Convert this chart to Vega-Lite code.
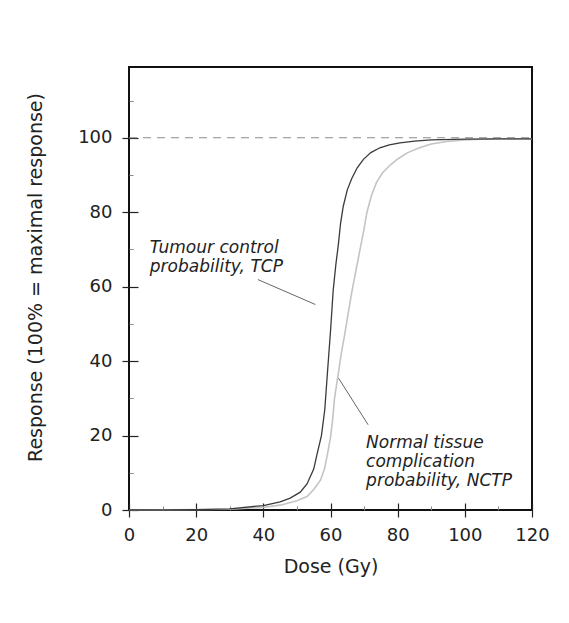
{
  "$schema": "https://vega.github.io/schema/vega-lite/v6.json",
  "width": 403,
  "height": 443,
  "autosize": "none",
  "padding": {"left": 129, "top": 67, "right": 37, "bottom": 113},
  "background": "white",
  "config": {
    "font": "DejaVu Sans",
    "view": {"stroke": "#111", "strokeWidth": 2}
  },
  "datasets": {
    "tcp": [
      {"dose": 0, "response": 0}, {"dose": 10, "response": 0.05}, {"dose": 20, "response": 0.1},
      {"dose": 30, "response": 0.3}, {"dose": 40, "response": 1.2}, {"dose": 45, "response": 2.2},
      {"dose": 48, "response": 3.2}, {"dose": 51, "response": 4.8}, {"dose": 53, "response": 7},
      {"dose": 55, "response": 11}, {"dose": 56, "response": 15}, {"dose": 57.3, "response": 20},
      {"dose": 58.3, "response": 27}, {"dose": 59.1, "response": 37}, {"dose": 60, "response": 48},
      {"dose": 60.8, "response": 59}, {"dose": 61.6, "response": 66}, {"dose": 62.3, "response": 71},
      {"dose": 63, "response": 77}, {"dose": 63.8, "response": 81.6}, {"dose": 65, "response": 86},
      {"dose": 66.3, "response": 89}, {"dose": 68, "response": 92}, {"dose": 69.8, "response": 94.2},
      {"dose": 72, "response": 96}, {"dose": 74.7, "response": 97.3}, {"dose": 77.5, "response": 98.1},
      {"dose": 80.7, "response": 98.6}, {"dose": 85, "response": 99.1}, {"dose": 90, "response": 99.4},
      {"dose": 100, "response": 99.6}, {"dose": 110, "response": 99.7}, {"dose": 120, "response": 99.7}
    ],
    "nctp": [
      {"dose": 0, "response": 0}, {"dose": 30, "response": 0.2}, {"dose": 40, "response": 0.7},
      {"dose": 45, "response": 1.3}, {"dose": 50, "response": 2.5}, {"dose": 53, "response": 3.6},
      {"dose": 55, "response": 5.5}, {"dose": 57, "response": 8}, {"dose": 58.2, "response": 11},
      {"dose": 59.1, "response": 15}, {"dose": 60, "response": 19.5}, {"dose": 60.6, "response": 24},
      {"dose": 61.2, "response": 30}, {"dose": 62.3, "response": 36.5}, {"dose": 63.2, "response": 42},
      {"dose": 64.2, "response": 47}, {"dose": 65.2, "response": 52.5}, {"dose": 66.3, "response": 58.3},
      {"dose": 67.5, "response": 64}, {"dose": 68.8, "response": 70}, {"dose": 70, "response": 75.5},
      {"dose": 70.8, "response": 79.8}, {"dose": 72.2, "response": 84.5}, {"dose": 73.7, "response": 88},
      {"dose": 75.5, "response": 90.6}, {"dose": 77.7, "response": 92.6}, {"dose": 80, "response": 94.3},
      {"dose": 83, "response": 96}, {"dose": 86.7, "response": 97.4}, {"dose": 90, "response": 98.3},
      {"dose": 94.6, "response": 99}, {"dose": 100, "response": 99.4}, {"dose": 105, "response": 99.6},
      {"dose": 110, "response": 99.7}, {"dose": 120, "response": 99.7}
    ],
    "leaders": [
      {"x": 38.4, "y": 61.9, "x2": 55.5, "y2": 55.2},
      {"x": 62.4, "y": 35.4, "x2": 71.2, "y2": 22.9}
    ],
    "labels": [
      {"x": 6.2, "y": 69.1, "text": "Tumour control\nprobability, TCP"},
      {"x": 70.6, "y": 16.6, "text": "Normal tissue\ncomplication\nprobability, NCTP"}
    ],
    "ref": [{"y": 100, "x": 0, "x2": 120}]
  },
  "resolve": {"axis": {"x": "independent", "y": "independent"}},
  "layer": [
    {
      "data": {"name": "ref"},
      "mark": {"type": "rule", "color": "#8c8c8c", "strokeWidth": 1.2, "strokeDash": [8, 6]},
      "encoding": {
        "x": {"field": "x", "type": "quantitative", "scale": {"domain": [0, 120], "nice": false}, "axis": null},
        "x2": {"field": "x2"},
        "y": {"field": "y", "type": "quantitative", "scale": {"domain": [0, 119], "nice": false}, "axis": null}
      }
    },
    {
      "data": {"name": "nctp"},
      "mark": {"type": "line", "color": "#c4c4c4", "strokeWidth": 1.6},
      "encoding": {
        "x": {"field": "dose", "type": "quantitative", "scale": {"domain": [0, 120], "nice": false},
          "axis": {"orient": "bottom", "values": [10, 30, 50, 70, 90, 110], "tickSize": -4, "tickColor": "#888", "labels": false, "title": null, "domain": false, "grid": false}},
        "y": {"field": "response", "type": "quantitative", "scale": {"domain": [0, 119], "nice": false},
          "axis": {"orient": "left", "values": [10, 30, 50, 70, 90, 110], "tickSize": -4, "tickColor": "#888", "labels": false, "title": null, "domain": false, "grid": false}}
      }
    },
    {
      "data": {"name": "tcp"},
      "mark": {"type": "line", "color": "#3a3a3a", "strokeWidth": 1.3},
      "encoding": {
        "x": {"field": "dose", "type": "quantitative", "scale": {"domain": [0, 120], "nice": false},
          "axis": {"orient": "bottom", "values": [0, 20, 40, 60, 80, 100, 120], "tickSize": 7, "tickColor": "#222", "tickWidth": 1.2,
            "labelFontSize": 18, "labelColor": "#222", "labelPadding": 9, "labelFlush": false,
            "title": "Dose (Gy)", "titleFontSize": 19, "titleFontWeight": "normal", "titleColor": "#222", "titlePadding": 13,
            "domain": false, "grid": false}},
        "y": {"field": "response", "type": "quantitative", "scale": {"domain": [0, 119], "nice": false},
          "axis": {"orient": "left", "values": [0, 20, 40, 60, 80, 100], "tickSize": 7, "tickColor": "#222", "tickWidth": 1.2,
            "labelFontSize": 18, "labelColor": "#222", "labelPadding": 10, "labelFlush": false,
            "title": "Response (100% = maximal response)", "titleFontSize": 19, "titleFontWeight": "normal", "titleColor": "#222", "titlePadding": 32, "titleY": 210,
            "domain": false, "grid": false}}
      }
    },
    {
      "data": {"name": "leaders"},
      "mark": {"type": "rule", "color": "#666", "strokeWidth": 1},
      "encoding": {
        "x": {"field": "x", "type": "quantitative", "scale": {"domain": [0, 120], "nice": false},
          "axis": {"orient": "bottom", "values": [0, 20, 40, 60, 80, 100, 120], "tickSize": -7, "tickColor": "#222", "tickWidth": 1.2, "labels": false, "title": null, "domain": false, "grid": false}},
        "x2": {"field": "x2"},
        "y": {"field": "y", "type": "quantitative", "scale": {"domain": [0, 119], "nice": false},
          "axis": {"orient": "left", "values": [0, 20, 40, 60, 80, 100], "tickSize": -9, "tickColor": "#222", "tickWidth": 1.2, "labels": false, "title": null, "domain": false, "grid": false}},
        "y2": {"field": "y2"}
      }
    },
    {
      "data": {"name": "labels"},
      "mark": {"type": "text", "align": "left", "baseline": "alphabetic", "fontStyle": "italic", "fontSize": 17, "color": "#222", "lineBreak": "\n", "lineHeight": 19},
      "encoding": {
        "x": {"field": "x", "type": "quantitative", "scale": {"domain": [0, 120], "nice": false}, "axis": null},
        "y": {"field": "y", "type": "quantitative", "scale": {"domain": [0, 119], "nice": false}, "axis": null},
        "text": {"field": "text"}
      }
    }
  ]
}
